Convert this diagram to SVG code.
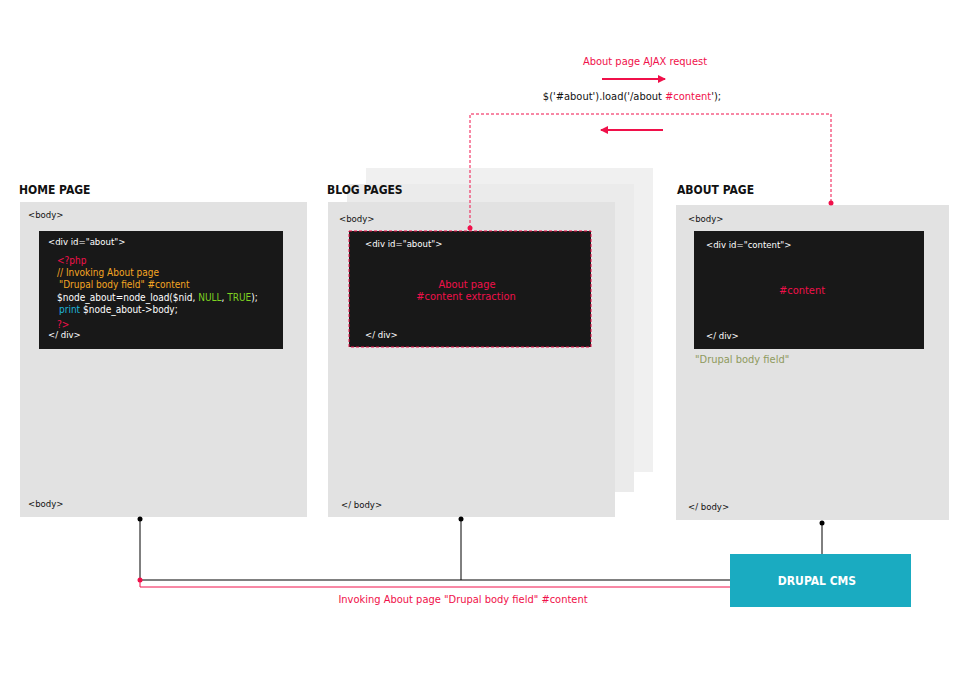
<svg xmlns="http://www.w3.org/2000/svg" width="970" height="700" viewBox="0 0 970 700">
<style>
text{font-family:"DejaVu Sans Condensed","Liberation Sans",sans-serif;font-size:9.5px;fill:#111}
.h{font-size:12px;font-weight:bold}
.w{fill:#fff}
.r{fill:#f0104a}
.o{fill:#f5a623}
.g{fill:#7ed321}
.c{fill:#1fb5d8}
.code{font-size:10px}
.page{fill:#e2e2e2}
.dark{fill:#181818}
</style>
<defs>
<marker id="ar" markerWidth="8" markerHeight="8" refX="7" refY="4" orient="auto" markerUnits="userSpaceOnUse"><path d="M0,0 L8,4 L0,8 Z" fill="#f0104a"/></marker>
</defs>
<rect width="970" height="700" fill="#fff"/>
<g id="home">
<text class="h" x="19" y="194">HOME PAGE</text>
<rect class="page" x="20" y="202" width="287" height="315"/>
<text x="28" y="218">&lt;body&gt;</text>
<rect class="dark" x="39" y="231" width="244" height="118"/>
<text class="w" x="48" y="245">&lt;div id="about"&gt;</text>
<text class="r code" x="57" y="264">&lt;?php</text>
<text class="o code" x="57" y="276">// Invoking About page</text>
<text class="o code" x="59" y="288">"Drupal body field" #content</text>
<text class="w code" x="57" y="301">$node_about=node_load($nid, <tspan class="g">NULL</tspan>, <tspan class="g">TRUE</tspan>);</text>
<text class="w code" x="59" y="313"><tspan class="c">print</tspan> $node_about-&gt;body;</text>
<text class="r code" x="57" y="328">?&gt;</text>
<text class="w" x="48" y="338">&lt;/ div&gt;</text>
<text x="28" y="507">&lt;body&gt;</text>
</g>
<g id="blog">
<rect x="366" y="168" width="287" height="304" fill="#f0f0f0"/>
<rect x="347" y="184" width="287" height="308" fill="#ebebeb"/>
<text class="h" x="327" y="194">BLOG PAGES</text>
<rect class="page" x="328" y="202" width="287" height="315"/>
<text x="339" y="222">&lt;body&gt;</text>
<rect class="dark" x="349" y="231" width="242" height="116" stroke="#f0104a" stroke-dasharray="3,2"/>
<text class="w" x="365" y="247">&lt;div id="about"&gt;</text>
<text class="r" x="467" y="288" text-anchor="middle" style="font-size:11px">About page</text>
<text class="r" x="466" y="300" text-anchor="middle" style="font-size:11px">#content extraction</text>
<text class="w" x="365" y="338">&lt;/ div&gt;</text>
<text x="341" y="508">&lt;/ body&gt;</text>
</g>
<g id="about">
<text class="h" x="677" y="194">ABOUT PAGE</text>
<rect class="page" x="676" y="205" width="273" height="315"/>
<text x="688" y="222">&lt;body&gt;</text>
<rect class="dark" x="694" y="231" width="230" height="118"/>
<text class="w" x="706" y="248">&lt;div id="content"&gt;</text>
<text class="r" x="802" y="294" text-anchor="middle" style="font-size:11px">#content</text>
<text class="w" x="706" y="339">&lt;/ div&gt;</text>
<text x="695" y="363" style="fill:#8f9a5e;font-size:11px">"Drupal body field"</text>
<text x="688" y="510">&lt;/ body&gt;</text>
</g>
<g id="cms">
<rect x="730" y="554" width="181" height="53" fill="#1aabc1"/>
<text x="817" y="585" text-anchor="middle" class="w" style="font-size:12px;font-weight:bold">DRUPAL CMS</text>
</g>
<g id="ajax">
<text class="r" x="645" y="65" text-anchor="middle" style="font-size:11px">About page AJAX request</text>
<text x="632" y="100" text-anchor="middle" style="font-size:11px">$('#about').load('/about <tspan class="r">#content</tspan>');</text>
</g>
<g id="connectors" fill="none">
<line x1="602" y1="79" x2="665" y2="79" stroke="#f0104a" stroke-width="2" marker-end="url(#ar)"/>
<line x1="663" y1="130" x2="601" y2="130" stroke="#f0104a" stroke-width="2" marker-end="url(#ar)"/>
<path d="M470,228 V114 H831 V203" stroke="#f0104a" stroke-dasharray="3,2"/>
<circle cx="470" cy="228" r="2.5" fill="#f0104a"/>
<circle cx="831" cy="203" r="2.5" fill="#f0104a"/>
<path d="M140,519 V580 H730 M461,519 V580 M822,523 V554" stroke="#000"/>
<path d="M140,580 V587 H730" stroke="#f0104a"/>
<circle cx="140" cy="519" r="2.5" fill="#000"/>
<circle cx="461" cy="519" r="2.5" fill="#000"/>
<circle cx="822" cy="523" r="2.5" fill="#000"/>
<circle cx="140" cy="580" r="2.5" fill="#f0104a"/>
<text class="r" x="463" y="603" text-anchor="middle" style="font-size:11px">Invoking About page "Drupal body field" #content</text>
</g>
</svg>
